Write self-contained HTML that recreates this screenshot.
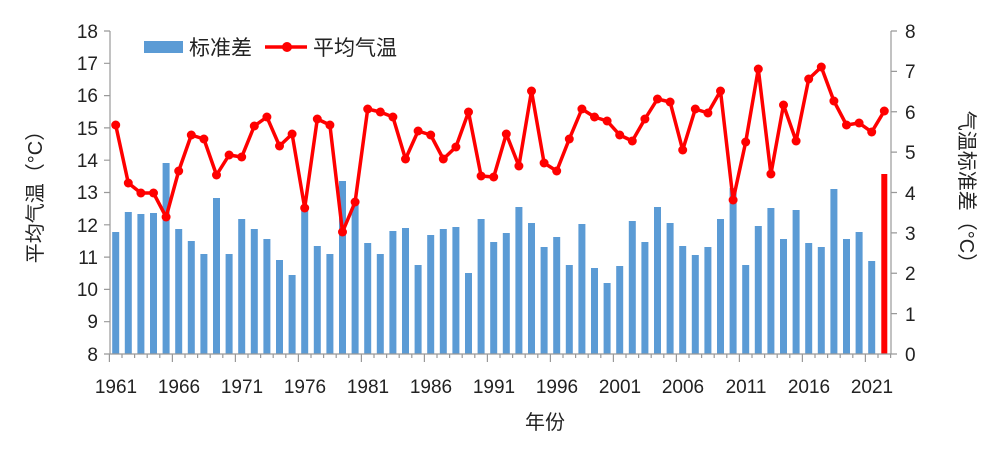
<!DOCTYPE html>
<html><head><meta charset="utf-8"><style>
body{margin:0;background:#fff}
svg text{font-family:"Liberation Sans","Noto Sans CJK SC",sans-serif;fill:#222}
</style></head><body>
<svg id="s" width="1000" height="448" viewBox="0 0 1000 448" xmlns="http://www.w3.org/2000/svg">
<g id="bars"></g>
<g stroke="#999" stroke-width="1.2" fill="none">
<line x1="110" y1="31" x2="110" y2="354"/>
<line x1="891" y1="31" x2="891" y2="354"/>
<line x1="110" y1="354" x2="891" y2="354"/>
<path id="ticks" d=""/>
</g>
<polyline id="line" fill="none" stroke="#ff0000" stroke-width="3.5" stroke-linejoin="round" points=""/>
<g id="dots" fill="#ff0000"></g>
<g font-size="19" text-anchor="end">
<text x="98" y="38">18</text><text x="98" y="70">17</text><text x="98" y="102">16</text><text x="98" y="135">15</text><text x="98" y="167">14</text><text x="98" y="199">13</text><text x="98" y="232">12</text><text x="98" y="264">11</text><text x="98" y="296">10</text><text x="98" y="328">9</text><text x="98" y="361">8</text>
</g>
<g font-size="19" text-anchor="start">
<text x="905" y="38">8</text><text x="905" y="78">7</text><text x="905" y="119">6</text><text x="905" y="159">5</text><text x="905" y="200">4</text><text x="905" y="240">3</text><text x="905" y="280">2</text><text x="905" y="321">1</text><text x="905" y="361">0</text>
</g>
<g font-size="19" text-anchor="middle">
<text x="116" y="393">1961</text><text x="179" y="393">1966</text><text x="242" y="393">1971</text><text x="305" y="393">1976</text><text x="368" y="393">1981</text><text x="431" y="393">1986</text><text x="494" y="393">1991</text><text x="557" y="393">1996</text><text x="620" y="393">2001</text><text x="683" y="393">2006</text><text x="746" y="393">2011</text><text x="809" y="393">2016</text><text x="872" y="393">2021</text>
<text x="545" y="429" font-size="20">年份</text>
<text transform="translate(42,192) rotate(-90)" font-size="20">平均气温（°C）</text>
<text transform="translate(960,192) rotate(90)" font-size="20">气温标准差（°C）</text>
</g>
<rect x="144" y="41" width="39" height="12" fill="#5b9bd5"/>
<text x="189" y="55" font-size="21">标准差</text>
<line x1="265" y1="47" x2="307" y2="47" stroke="#ff0000" stroke-width="3.5"/>
<circle cx="287" cy="47" r="5" fill="#ff0000"/>
<text x="313" y="55" font-size="21">平均气温</text>
</svg>
<script>
var t=[125,183,193,193,217,171,135,139,175,155,157,126,117,146,134,208,119,125,232,202,109,112,117,159,131,135,159,147,112,176,177,134,166,91,163,171,139,109,117,121,135,141,119,99,102,150,109,113,91,200,142,69,174,105,141,79,67,101,125,123,132,111];
var b=[232,212,214,213,163,229,241,254,198,254,219,229,239,260,275,205,246,254,181,203,243,254,231,228,265,235,229,227,273,219,242,233,207,223,247,237,265,224,268,283,266,221,242,207,223,246,255,247,219,188,265,226,208,239,210,243,247,189,239,232,261,174];
var ns="http://www.w3.org/2000/svg",bars=document.getElementById('bars'),dots=document.getElementById('dots'),pts=[],d="";
for(var i=0;i<62;i++){var x=115.7+i*12.6;
var r=document.createElementNS(ns,'rect');var red=i==61;
r.setAttribute('x',x-(red?3:3.5));r.setAttribute('width',red?6:7);r.setAttribute('y',b[i]);r.setAttribute('height',354-b[i]);r.setAttribute('fill',red?'#ff0000':'#5b9bd5');bars.appendChild(r);
pts.push(x+','+t[i]);var c=document.createElementNS(ns,'circle');c.setAttribute('cx',x);c.setAttribute('cy',t[i]);c.setAttribute('r',4.5);dots.appendChild(c);}
document.getElementById('line').setAttribute('points',pts.join(' '));
for(var k=0;k<=62;k++){var xx=109.4+k*12.6;d+='M'+xx+' 354V'+(k%5==0?362:358);}
for(var k=0;k<=10;k++){var y=31+k*32.3;d+='M104 '+y+'H110';}
for(var k=0;k<=8;k++){var y=31+k*40.375;d+='M891 '+y+'H897';}
document.getElementById('ticks').setAttribute('d',d);
</script>
</body></html>
